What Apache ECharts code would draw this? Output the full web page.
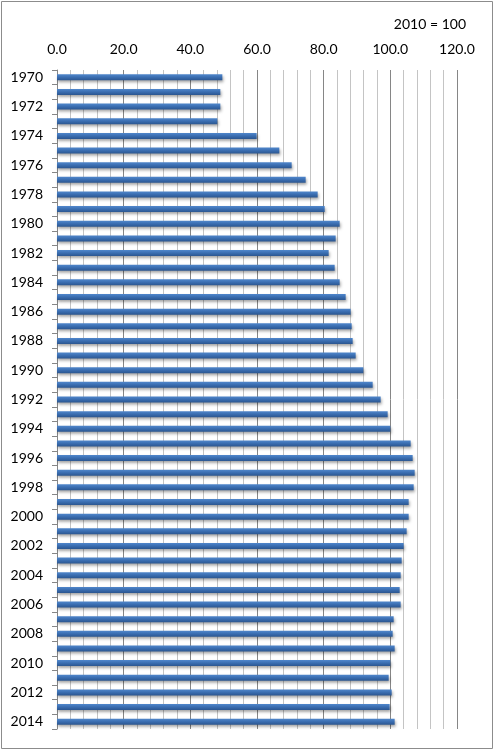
<!DOCTYPE html>
<html>
<head>
<meta charset="utf-8">
<script src="https://cdn.jsdelivr.net/npm/echarts@6/dist/echarts.min.js"></script>
<style>
html,body{margin:0;padding:0;background:#fff;}
#chart{width:494px;height:751px;}
</style>
</head>
<body>
<div id="chart"></div>
<script>
const years = ['1970','1971','1972','1973','1974','1975','1976','1977','1978','1979',
  '1980','1981','1982','1983','1984','1985','1986','1987','1988','1989',
  '1990','1991','1992','1993','1994','1995','1996','1997','1998','1999',
  '2000','2001','2002','2003','2004','2005','2006','2007','2008','2009',
  '2010','2011','2012','2013','2014'];
const indexValues = [49.6, 49.0, 49.0, 48.1, 59.9, 66.7, 70.4, 74.6, 78.2, 80.3,
  84.8, 83.6, 81.5, 83.3, 84.8, 86.6, 88.1, 88.4, 88.7, 89.6,
  91.9, 94.7, 97.1, 99.2, 100.0, 106.1, 106.7, 107.3, 107.0, 105.5,
  105.5, 104.9, 104.0, 103.4, 103.1, 102.8, 103.1, 101.0, 100.7, 101.3,
  100.0, 99.5, 100.4, 99.8, 101.3];
const xTicks = {min: 0, max: 120, interval: 20};
const baseLabel = '2010 = 100';

const chart = echarts.init(document.getElementById('chart'), null, {renderer: 'canvas'});
const font = 'Lato, "Open Sans", sans-serif';
chart.setOption({
  animation: false,
  backgroundColor: '#fff',
  title: {
    text: baseLabel,
    right: 23,
    top: 12,
    textStyle: {fontFamily: font, fontSize: 14, fontWeight: 'normal', color: '#000'}
  },
  graphic: [{
    type: 'rect',
    shape: {x: 1.5, y: 1.5, width: 491, height: 747},
    style: {fill: 'none', stroke: '#8c8c8c', lineWidth: 1},
    silent: true
  }],
  grid: {left: 57, right: 37, top: 70, bottom: 22, containLabel: false},
  xAxis: {
    type: 'value',
    position: 'top',
    min: xTicks.min,
    max: xTicks.max,
    interval: xTicks.interval,
    axisLine: {show: false},
    axisTick: {show: false},
    minorTick: {show: false, splitNumber: 5},
    axisLabel: {
      fontFamily: font, fontSize: 14, color: '#000', margin: 14,
      formatter: v => v.toFixed(1)
    },
    splitLine: {show: true, lineStyle: {color: '#868686', width: 1}},
    minorSplitLine: {show: true, lineStyle: {color: '#c4c4c4', width: 1}}
  },
  yAxis: {
    type: 'category',
    data: years,
    inverse: true,
    axisLine: {show: true, lineStyle: {color: '#868686'}},
    axisTick: {show: true, interval: 0, length: 5, lineStyle: {color: '#868686'}},
    axisLabel: {
      interval: 1, fontFamily: font, fontSize: 14, color: '#000', margin: 14
    },
    splitLine: {show: false}
  },
  series: [{
    type: 'bar',
    data: indexValues,
    barWidth: 6,
    itemStyle: {
      color: new echarts.graphic.LinearGradient(0, 0, 0, 1, [
        {offset: 0, color: '#5087cc'},
        {offset: 0.5, color: '#3a6db0'},
        {offset: 1, color: '#2b5690'}
      ]),
      shadowColor: 'rgba(0,0,0,0.35)',
      shadowBlur: 3,
      shadowOffsetX: 1,
      shadowOffsetY: 2
    }
  }]
});
</script>
</body>
</html>
